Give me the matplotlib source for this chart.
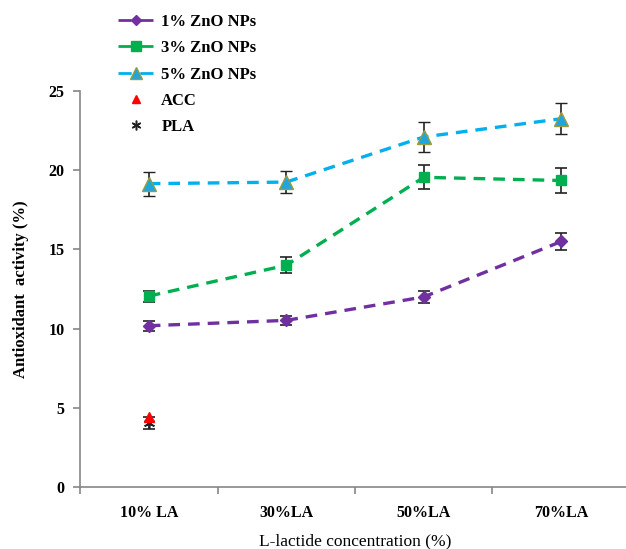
"""Antioxidant activity vs L-lactide concentration."""
import matplotlib
matplotlib.use('Agg')
import matplotlib.pyplot as plt
from matplotlib.lines import Line2D
from matplotlib.ticker import FixedLocator

categories = ['10% LA', '30%LA', '50%LA', '70%LA']

zno1 = [10.18, 10.52, 12.0, 15.5]
zno1_err = [0.3, 0.3, 0.4, 0.55]
zno3 = [12.05, 14.0, 19.55, 19.35]
zno3_err = [0.35, 0.5, 0.75, 0.78]
zno5 = [19.15, 19.25, 22.1, 23.25]
zno5_err = [0.75, 0.7, 0.92, 0.98]

acc = [4.45]
pla = [4.05]
pla_err = [0.4]

plt.rcParams['font.family'] = ['Liberation Serif', 'DejaVu Serif']

fig = plt.figure(figsize=(6.26, 5.49), dpi=100)
ax = fig.add_axes([80 / 626, 1 - 487 / 549, 550 / 626, 396 / 549])

x = list(range(len(categories)))
dash = (0, (3.5, 2.4))
lw = 2.4
err_kw = dict(ecolor='#222222', elinewidth=1.2, capsize=4, capthick=1.2, zorder=3)

ax.errorbar(x, zno1, yerr=zno1_err, color='#7030A0', ls=dash, lw=lw, marker='D', ms=6,
            mfc='#7030A0', mec='#7030A0', **err_kw)
ax.errorbar(x, zno3, yerr=zno3_err, color='#00B050', ls=dash, lw=lw, marker='s', ms=7.5,
            mfc='#00B050', mec='#00B050', **err_kw)
ax.errorbar(x, zno5, yerr=zno5_err, color='#00B0F0', ls=dash, lw=lw, marker='^', ms=9.5,
            mfc='#1FA5E0', mec='#9B9B3A', mew=1, **err_kw)
ax.errorbar([0], pla, yerr=pla_err, color='#222222', ls='none', marker=(6, 2, 0), ms=8,
            mew=1.2, elinewidth=1.2, capsize=4, capthick=1.2, zorder=3)
ax.plot([0], acc, ls='none', marker='^', ms=7, color='#FF0000', zorder=4)

ax.set_xlim(-0.5, 3.5)
ax.set_ylim(0, 25)
ax.set_yticks([0, 5, 10, 15, 20, 25])
ax.set_xticks(x)
ax.set_xticklabels(categories)
ax.xaxis.set_minor_locator(FixedLocator([-0.5, 0.5, 1.5, 2.5]))
ax.tick_params(axis='x', which='major', length=0, pad=13)
ax.tick_params(axis='x', which='minor', length=5, color='#868686', width=1.2)
ax.tick_params(axis='y', length=5, color='#868686', width=1.2, pad=6)
for lab in ax.get_xticklabels() + ax.get_yticklabels():
    lab.set_fontweight('bold')
    lab.set_fontsize(11.5)

for side in ['top', 'right']:
    ax.spines[side].set_visible(False)
for side in ['left', 'bottom']:
    ax.spines[side].set_color('#868686')
    ax.spines[side].set_linewidth(1.2)

ax.set_xlabel('L-lactide concentration (%)', fontsize=12.5, labelpad=9)
ax.set_ylabel('Antioxidant  activity (%)', fontsize=12, fontweight='bold', labelpad=14)

# legend without error bars: dash - marker - dash
leg_dash = (0, (4.75, 3.1))
handles = [
    Line2D([], [], color='#7030A0', lw=2, ls=leg_dash, marker='D', ms=5),
    Line2D([], [], color='#00B050', lw=2, ls=leg_dash, marker='s', ms=6.5),
    Line2D([], [], color='#00B0F0', lw=2, ls=leg_dash, marker='^', ms=8,
           mfc='#1FA5E0', mec='#9B9B3A'),
    Line2D([], [], color='#FF0000', ls='none', marker='^', ms=6),
    Line2D([], [], color='#222222', ls='none', marker=(6, 2, 0), ms=7, mew=1.1),
]
labels = ['1% ZnO NPs', '3% ZnO NPs', '5% ZnO NPs', 'ACC', 'PLA']
fig.legend(handles, labels, loc='upper left',
           bbox_to_anchor=(103 / 626, 1 + 1 / 549), frameon=False,
           prop={'weight': 'bold', 'size': 12}, handlelength=2.1,
           labelspacing=0.62, handletextpad=0.5)

fig.savefig('out.png', dpi=100)
